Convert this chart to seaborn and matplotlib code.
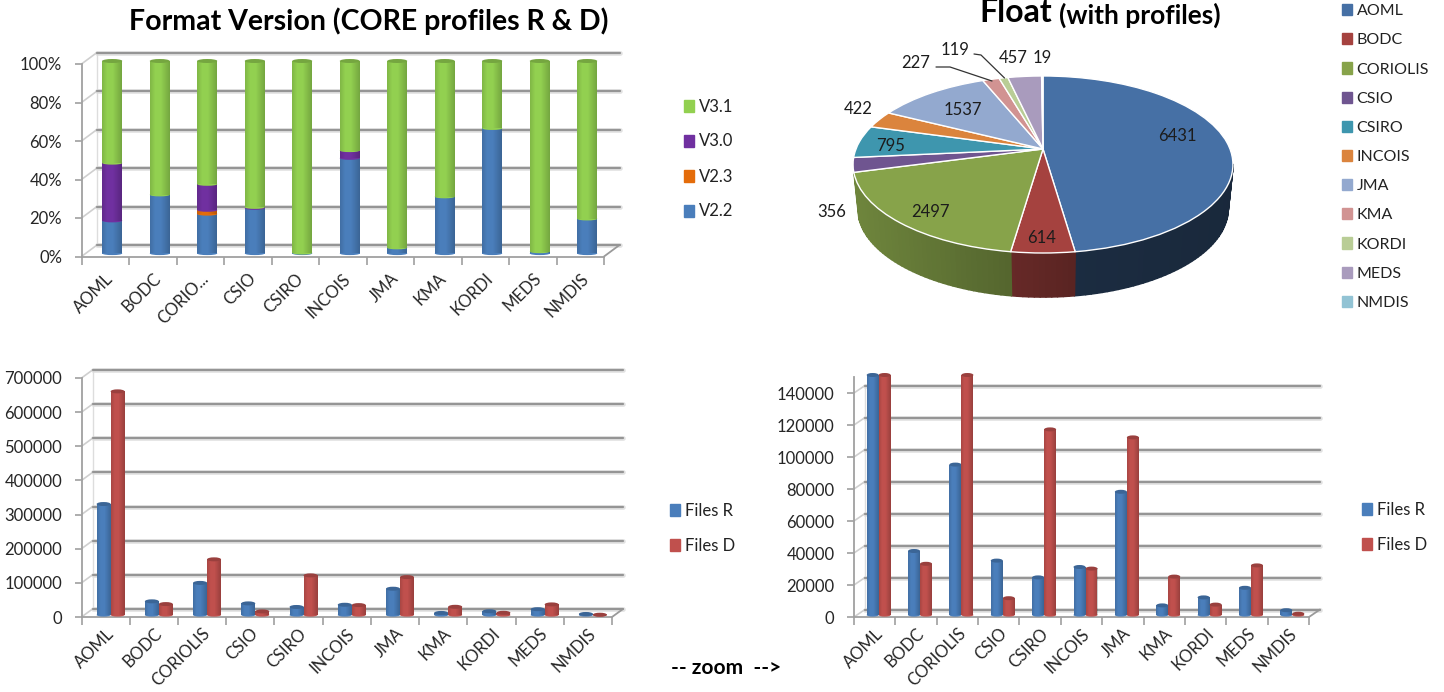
import numpy as np
import pandas as pd
import matplotlib
matplotlib.use('Agg')
import matplotlib.pyplot as plt
import seaborn as sns
from matplotlib.collections import PolyCollection
from matplotlib.colors import to_rgb
from matplotlib.patches import Ellipse, Patch
from matplotlib.transforms import Affine2D, Transform

dacs = ['AOML', 'BODC', 'CORIOLIS', 'CSIO', 'CSIRO', 'INCOIS', 'JMA', 'KMA', 'KORDI', 'MEDS', 'NMDIS']
dacs_short = ['AOML', 'BODC', 'CORIO...', 'CSIO', 'CSIRO', 'INCOIS', 'JMA', 'KMA', 'KORDI', 'MEDS', 'NMDIS']

v22 = [17, 30.5, 20.5, 23.5, 0.3, 49.5, 3, 29.5, 65, 1, 18]
v23 = [0, 0, 2, 0, 0, 0, 0, 0, 0, 0, 0]
v30 = [30, 0, 13.5, 0.5, 0, 4, 0, 0, 0, 0, 0]
v31 = [53, 69.5, 64, 76, 99.7, 46.5, 97, 70.5, 35, 99, 82]

floats = [6431, 614, 2497, 356, 795, 422, 1537, 227, 119, 457, 19]

files_r = [325000, 40000, 94000, 34000, 23500, 30000, 77000, 6000, 11000, 17000, 3000]
files_d = [655000, 32000, 163000, 10500, 116000, 29000, 111000, 24000, 6500, 31000, 800]

blue, orange, purple, green = '#4a7ebb', '#e46c0a', '#7030a0', '#92d050'
red = '#c0504d'
pie_colors = ['#4670a5', '#a5423f', '#87a34a', '#6f5590', '#3e96ae', '#db843d',
              '#93a9cf', '#d19392', '#b9cd96', '#a99bbd', '#92c3d4']

W, H = 1444, 692
sns.set_theme(style='white')
plt.rcParams['font.family'] = ['Lato', 'DejaVu Sans']
plt.rcParams['text.color'] = '#222222'

fig = plt.figure(figsize=(W / 100, H / 100), dpi=100, facecolor='white')


def axes_px(left, top, right, bottom):
    return fig.add_axes([left / W, 1 - bottom / H, (right - left) / W, (bottom - top) / H])


def text_px(x, y, s, **kw):
    kw.setdefault('ha', 'center')
    kw.setdefault('va', 'center')
    fig.text(x / W, 1 - y / H, s, **kw)


def stacked_above(ax, bar):
    for other in ax.patches:
        if other is bar or isinstance(other, Ellipse):
            continue
        if abs(other.get_x() - bar.get_x()) < 1e-6 and other.get_height() > 0 and \
                abs(other.get_y() - (bar.get_y() + bar.get_height())) < 1e-6:
            return True
    return False


def make_3d(ax, ylim, yticks, ylabels, xlabels, dx, dy, bar_dx, bar_dy, xpad=10):
    # gridlines sit on a back wall shifted up and right of the real axes
    ax.set_xlim(-0.5, 10.5)
    ax.set_ylim(0, ylim)
    ax.set_xlabel('')
    ax.set_ylabel('')
    ax.patch.set_alpha(0)
    back = ax.transData + Affine2D().translate(dx, dy)
    for y in yticks:
        ax.plot([-0.5, 10.5], [y, y], color='#e2e2e2', lw=3.4, transform=back, clip_on=False, zorder=1)
        ax.plot([-0.5, 10.5], [y, y], color='#959595', lw=1.6, transform=back, clip_on=False, zorder=1.1)
        p0 = ax.transData.transform([[-0.5, y]])[0]
        ax.plot([p0[0], p0[0] + dx], [p0[1], p0[1] + dy], color='#cfcfcf', lw=1.2,
                transform=None, clip_on=False, zorder=1)
    p0 = ax.transData.transform([[10.5, 0]])[0]
    ax.plot([p0[0], p0[0] + dx], [p0[1], p0[1] + dy], color='#9a9a9a', lw=1.3,
            transform=None, clip_on=False, zorder=1)
    ax.plot([-0.5, -0.5], [0, yticks[-1]], color='#dddddd', lw=1, transform=back, clip_on=False, zorder=1)

    sns.despine(ax=ax)
    for side in ['left', 'bottom']:
        ax.spines[side].set_color('#a0a0a0')
        ax.spines[side].set_linewidth(1.3)
    ax.set_yticks(yticks, ylabels)
    ax.set_xticks(range(11), xlabels, rotation=45, ha='right', rotation_mode='anchor')
    ax.set_xticks(np.arange(-0.5, 11), minor=True)
    ax.tick_params(axis='x', which='major', length=0, pad=xpad, labelsize=12)
    ax.tick_params(axis='x', which='minor', length=6, color='#a0a0a0', width=1.2, bottom=True)
    ax.tick_params(axis='y', length=5, color='#a0a0a0', width=1.2, pad=9, labelsize=12, left=True)

    # turn flat seaborn bars into cylinders
    off = ax.transData + Affine2D().translate(bar_dx, bar_dy)
    ax_h = ax.get_window_extent().height
    cap = ylim * 4 / ax_h
    shade = np.zeros((1, 24, 4))
    shade[0, :, 3] = np.interp(np.linspace(0, 1, 24), [0, 0.25, 0.55, 1], [0.12, 0, 0, 0.2])
    z = 3
    for bar in list(ax.patches):
        h = bar.get_height()
        if h <= 0:
            continue
        x0, w, b = bar.get_x(), bar.get_width(), bar.get_y()
        top = min(b + h, ylim)
        has_next = stacked_above(ax, bar)
        bar.set_height(top - b)
        col = bar.get_facecolor()
        bar.set(transform=off, clip_on=False, zorder=z, linewidth=0)
        ax.add_patch(Ellipse((x0 + w / 2, b), w, cap * 0.8, fc=col, ec='none', transform=off,
                             clip_on=False, zorder=z))
        ax.imshow(shade, extent=(x0, x0 + w, b, top), aspect='auto', transform=off,
                  zorder=z + 0.1, clip_on=False)
        if not has_next:
            dark = tuple(c * 0.8 for c in to_rgb(col))
            ax.add_patch(Ellipse((x0 + w / 2, top), w, cap, fc=dark, ec='none', transform=off,
                                 clip_on=False, zorder=z + 0.2))
        z += 0.3
    ax.set_xlim(-0.5, 10.5)
    ax.set_ylim(0, ylim)


def add_legend(names, colors, x, y, spacing, size=12):
    handles = [Patch(color=c, label=n) for n, c in zip(names, colors)]
    fig.legend(handles=handles, loc='center left', bbox_to_anchor=(x / W, 1 - y / H), frameon=False,
               fontsize=size, handlelength=0.62, handleheight=0.7, handletextpad=0.3,
               labelspacing=spacing, borderpad=0, borderaxespad=0)


# stacked format version chart
ax1 = axes_px(81.5, 64, 604, 256.5)
bottom = np.zeros(11)
for vals, col in zip([v22, v23, v30, v31], [blue, orange, purple, green]):
    sns.barplot(x=dacs, y=vals, bottom=bottom, color=col, width=0.42, saturation=1, errorbar=None, ax=ax1)
    bottom = bottom + np.array(vals)
make_3d(ax1, 100, list(range(0, 101, 20)), [f'{p}%' for p in range(0, 101, 20)], dacs_short, 15.5, 11.5, 7, 3)
text_px(369, 21, 'Format Version (CORE profiles R & D)', fontsize=20.5, fontweight='bold', color='black')
add_legend(['V3.1', 'V3.0', 'V2.3', 'V2.2'], [green, purple, orange, blue], 684, 159, 1.14)

# files charts, full range and zoomed
files = pd.DataFrame({'dac': dacs * 2, 'kind': ['Files R'] * 11 + ['Files D'] * 11, 'n': files_r + files_d})
ax3 = axes_px(81.5, 378, 612, 617)
sns.barplot(data=files, x='dac', y='n', hue='kind', palette=[blue, red], width=0.58, gap=0, saturation=1,
            errorbar=None, legend=False, ax=ax3)
ticks3 = list(range(0, 700001, 100000))
make_3d(ax3, 700000, ticks3, [str(t) for t in ticks3], dacs, 11, 8, 5, 2, xpad=6)
add_legend(['Files R', 'Files D'], [blue, red], 670, 528.5, 1.14)

ax4 = axes_px(854, 377, 1309, 617)
sns.barplot(data=files, x='dac', y='n', hue='kind', palette=[blue, red], width=0.58, gap=0, saturation=1,
            errorbar=None, legend=False, ax=ax4)
ticks4 = list(range(0, 140001, 20000))
make_3d(ax4, 150000, ticks4, [str(t) for t in ticks4], dacs, 11, 7.5, 4, 2, xpad=6)
add_legend(['Files R', 'Files D'], [blue, red], 1362, 527.5, 1.14)

text_px(726, 668, '-- zoom  -->', fontsize=15, fontweight='bold', color='black')


# tilted pie, unit circle mapped straight to picture pixels
class Tilt(Transform):
    input_dims = 2
    output_dims = 2

    def transform_non_affine(self, xy):
        xy = np.asarray(xy, dtype=float)
        s = 1 / (1 + 0.175 * xy[:, 1])
        return np.column_stack([1043 + 187 * xy[:, 0] * s, 149 - 85.8 * xy[:, 1] * s])


tilt = Tilt()
ax2 = fig.add_axes([0, 0, 1, 1], zorder=5)
wedges, _ = ax2.pie(floats, colors=pie_colors, startangle=90, counterclock=False, radius=1)
ax2.set_aspect('auto')
ax2.set_xlim(0, W)
ax2.set_ylim(H, 0)
ax2.axis('off')

quads, quad_colors = [], []
for i, wedge in enumerate(wedges):
    wedge.set_transform(tilt + ax2.transData)
    # wedge angles run from 90 down to -270 here, only the lower rim shows
    t0, t1 = max(wedge.theta1, -164), min(wedge.theta2, -10)
    if t1 <= t0:
        continue
    edges = np.append(np.arange(t0, t1, 1.5), t1)
    for lo, hi in zip(edges[:-1], edges[1:]):
        rad = np.radians([lo, hi])
        up = tilt.transform_non_affine(np.column_stack([np.cos(rad), np.sin(rad)]))
        down = np.column_stack([1043 + (up[:, 0] - 1043) * 0.975, up[:, 1] + 44])
        quads.append(np.vstack([up, down[::-1]]))
        xn = (up[0, 0] - 1043) / 190
        shade = 0.40 - 0.04 * xn if i == 0 else 0.58 - 0.24 * xn
        quad_colors.append(tuple(c * shade for c in to_rgb(pie_colors[i])))
ax2.add_collection(PolyCollection(quads, facecolors=quad_colors, edgecolors=quad_colors, linewidths=1.2, zorder=0))

pie_label_pos = [(1177, 136), (1042, 238), (930, 212), (832, 212), (891, 146), (858, 109),
                 (963, 110), (916, 63), (955, 50), (1013, 58), (1042, 58)]
for val, (x, y) in zip(floats, pie_label_pos):
    ax2.text(x, y, str(val), ha='center', va='center', fontsize=12, color='#1c1c1c')
ax2.plot([936, 950, 992], [67, 67, 81], color='#333333', lw=0.9)
ax2.plot([974, 981, 1004.5], [54, 55, 78], color='#333333', lw=0.9)

text_px(1016, 12, 'Float', fontsize=23, fontweight='bold', color='black')
text_px(1140, 15, '(with profiles)', fontsize=19, fontweight='bold', color='black')
add_legend(dacs, pie_colors, 1342, 157, 0.94, size=11.5)

fig.savefig('out.png', dpi=100)
